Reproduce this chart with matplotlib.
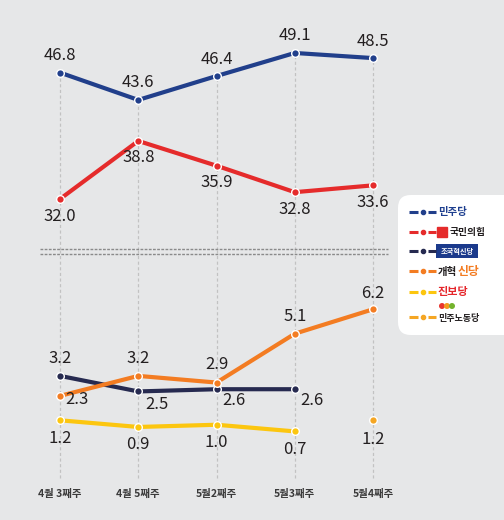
import numpy as np
import matplotlib.pyplot as plt
from matplotlib.patches import FancyBboxPatch, Rectangle, Ellipse
from matplotlib.lines import Line2D

plt.rcParams['font.family'] = ['Noto Sans CJK KR', 'DejaVu Sans']

# 데이터
weeks = ['4월 3째주', '4월 5째주', '5월2째주', '5월3째주', '5월4째주']
minjoo = [46.8, 43.6, 46.4, 49.1, 48.5]         # 민주당
ppp = [32.0, 38.8, 35.9, 32.8, 33.6]            # 국민의힘
rebuild = [3.2, 2.5, 2.6, 2.6, np.nan]          # 조국혁신당
reform = [2.3, 3.2, 2.9, 5.1, 6.2]              # 개혁신당
progressive = [1.2, 0.9, 1.0, 0.7, np.nan]      # 진보당
labor = [np.nan, np.nan, np.nan, np.nan, 1.2]   # 민주노동당

bg = '#e6e7e8'
W, H = 504, 520
fig = plt.figure(figsize=(W / 100, H / 100), dpi=100, facecolor=bg)


def fx(px):
    return px / W


def fy(py):
    return 1 - py / H


def rect(x0, y0, x1, y1):
    return [fx(x0), fy(y1), fx(x1) - fx(x0), fy(y0) - fy(y1)]


ax_top = fig.add_axes(rect(0, 20, W, 250))
ax_bot = fig.add_axes(rect(0, 250, W, H))
for ax in (ax_top, ax_bot):
    ax.set_facecolor('none')
    ax.set_axis_off()
    ax.set_xlim(-0.767, 5.674)
ax_top.set_ylim(26.03, 52.96)
ax_bot.set_ylim(-3.29, 8.87)

x = np.arange(len(weeks))

# 세로 점선
grid_kw = dict(colors='#c2c2c2', linestyles=(0, (2.5, 2)), linewidth=0.9, zorder=0)
ax_top.vlines(x, 26.03, minjoo, **grid_kw)
ax_bot.vlines(x, -1.4, 8.87, **grid_kw)


def draw(ax, vals, color, offsets):
    ax.plot(x, vals, color=color, lw=3, marker='o', ms=5.5, mfc=color,
            mec='white', mew=1, zorder=3)
    for i, v in enumerate(vals):
        if np.isnan(v):
            continue
        dx, dy = offsets[i] if isinstance(offsets, list) else offsets
        ax.annotate(f'{v:.1f}', (i, v), xytext=(dx, dy), textcoords='offset pixels',
                    ha='center', va='center', fontsize=12, color='#231f20', zorder=5)


draw(ax_top, minjoo, '#213f8b', (0, 17))
draw(ax_top, ppp, '#e52b2b', (0, -17))
draw(ax_bot, rebuild, '#262a50', [(0, 17), (19, -13), (17, -11), (17, -11), (0, 0)])
draw(ax_bot, reform, '#f37c22', [(17, -4), (0, 17), (0, 18), (0, 17), (0, 16)])
draw(ax_bot, progressive, '#fcc60f', (0, -18))
draw(ax_bot, labor, '#f5a623', (0, -19))

# 축 생략 표시
for py in (249, 254):
    fig.add_artist(Line2D([fx(40), fx(388)], [fy(py), fy(py)], transform=fig.transFigure,
                          color='#8a8a8a', lw=1, ls=(0, (2, 1))))

# x축 라벨
for i, w in enumerate(weeks):
    ax_bot.text(i, (H - 494) / (H - 250), w, transform=ax_bot.get_xaxis_transform(),
                ha='center', va='center', fontsize=7.5, fontweight='bold', color='#3a3a3a')

# 범례
fig.add_artist(FancyBboxPatch((fx(398), fy(335)), fx(530) - fx(398), fy(195) - fy(335),
                              boxstyle='round,pad=0,rounding_size=0.025',
                              transform=fig.transFigure, fc='white', ec='none'))
leg_colors = ['#213f8b', '#e52b2b', '#262a50', '#f37c22', '#fcc60f', '#f5a623']
leg_y = [212, 232, 251, 271, 292, 317]
for c, py in zip(leg_colors, leg_y):
    for a, b in ((409, 418), (428, 436)):
        fig.add_artist(Line2D([fx(a), fx(b)], [fy(py), fy(py)], transform=fig.transFigure,
                              color=c, lw=2.2, solid_capstyle='butt'))
    fig.add_artist(Line2D([fx(423)], [fy(py)], transform=fig.transFigure, color=c,
                          marker='o', ms=3, lw=0))

txt = dict(transform=fig.transFigure, va='center', ha='left', fontweight='bold')
fig.text(fx(438), fy(212), '민주당', color='#1e3f8f', fontsize=7.5, **txt)

fig.add_artist(Line2D([fx(442)], [fy(232)], transform=fig.transFigure, color='#e52b2b',
                      marker='s', ms=7, lw=0))
fig.text(fx(450), fy(232), '국민의힘', color='#231f20', fontsize=7, **txt)

fig.add_artist(Rectangle((fx(436), fy(258)), fx(478) - fx(436), fy(244) - fy(258),
                         transform=fig.transFigure, fc='#1b3a8c', ec='none'))
fig.text(fx(457), fy(251), '조국혁신당', color='white', fontsize=5.2,
         transform=fig.transFigure, va='center', ha='center', fontweight='bold')

fig.text(fx(438), fy(272), '개혁', color='#231f20', fontsize=7.5, **txt)
fig.text(fx(458), fy(271), '신당', color='#f37c22', fontsize=8.5, **txt)

fig.text(fx(438), fy(292), '진보당', color='#e5262b', fontsize=8, **txt)

for cx, c in zip((442, 447, 452), ('#e8352e', '#f39a1e', '#74b32d')):
    fig.add_artist(Ellipse((fx(cx), fy(306)), fx(6), fy(300) - fy(306),
                           transform=fig.transFigure, fc=c, ec='none'))
fig.text(fx(438), fy(318), '민주노동당', color='#231f20', fontsize=6.5, **txt)

fig.savefig('out.png', dpi=100, facecolor=bg)
